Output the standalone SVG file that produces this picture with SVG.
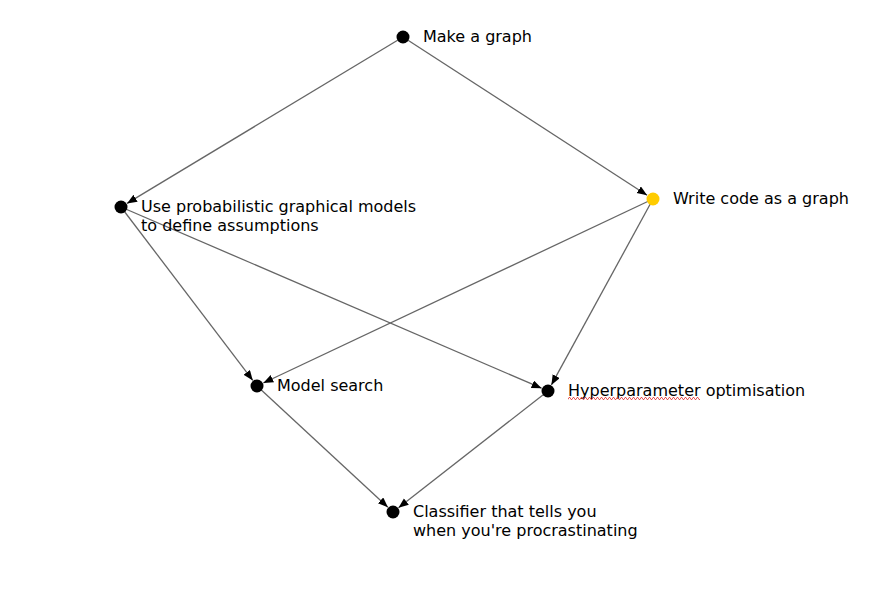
<svg xmlns="http://www.w3.org/2000/svg" width="894" height="597" viewBox="0 0 894 597">
  <style>
    .edge { stroke: #666666; stroke-width: 1.3; fill: none; marker-end: url(#arrow); }
    .node { fill: #000000; }
    .label { font-family: "DejaVu Sans", sans-serif; font-size: 16px; fill: #000000; }
  </style>
  <defs>
    <marker id="arrow" markerUnits="userSpaceOnUse" markerWidth="12" markerHeight="10" refX="10" refY="4" orient="auto">
      <path d="M0,0 L10,4 L0,8 Z" fill="#000000"/>
    </marker>
    <pattern id="squiggle" patternUnits="userSpaceOnUse" x="568" y="397" width="4" height="3">
      <polyline points="0,2.5 1,0.5 2,0.5 3,2.5 4,2.5" fill="none" stroke="#e03030" stroke-width="0.8"/>
    </pattern>
  </defs>
  <rect width="894" height="597" fill="#ffffff"/>
  <g id="connectors">
    <line class="edge" x1="403" y1="37" x2="127" y2="203.4"/>
    <line class="edge" x1="403" y1="37" x2="647.1" y2="195.2"/>
    <line class="edge" x1="121" y1="207" x2="252.8" y2="380.4"/>
    <line class="edge" x1="121" y1="207" x2="541.6" y2="388.2"/>
    <line class="edge" x1="653" y1="199" x2="263.3" y2="383"/>
    <line class="edge" x1="653" y1="199" x2="551.4" y2="384.9"/>
    <line class="edge" x1="257" y1="386" x2="387.9" y2="507.2"/>
    <line class="edge" x1="548" y1="391" x2="398.5" y2="507.7"/>
  </g>
  <g id="make-graph">
    <circle class="node" cx="403" cy="37" r="6.5"/>
    <text class="label" x="423" y="42">Make a graph</text>
  </g>
  <g id="use-pgm">
    <circle class="node" cx="121" cy="207" r="6.5"/>
    <text class="label" x="141" y="212">Use probabilistic graphical models</text>
    <text class="label" x="141" y="231">to define assumptions</text>
  </g>
  <g id="write-code">
    <circle cx="653" cy="199" r="6.5" fill="#ffcc00"/>
    <text class="label" x="673" y="204">Write code as a graph</text>
  </g>
  <g id="model-search">
    <circle class="node" cx="257" cy="386" r="6.5"/>
    <text class="label" x="277" y="391">Model search</text>
  </g>
  <g id="hyperparameter">
    <circle class="node" cx="548" cy="391" r="6.5"/>
    <text class="label" x="568" y="396">Hyperparameter optimisation</text>
    <rect x="568" y="397" width="132" height="3" fill="url(#squiggle)"/>
  </g>
  <g id="classifier">
    <circle class="node" cx="393" cy="512" r="6.5"/>
    <text class="label" x="413" y="517">Classifier that tells you</text>
    <text class="label" x="413" y="536">when you're procrastinating</text>
  </g>
</svg>
